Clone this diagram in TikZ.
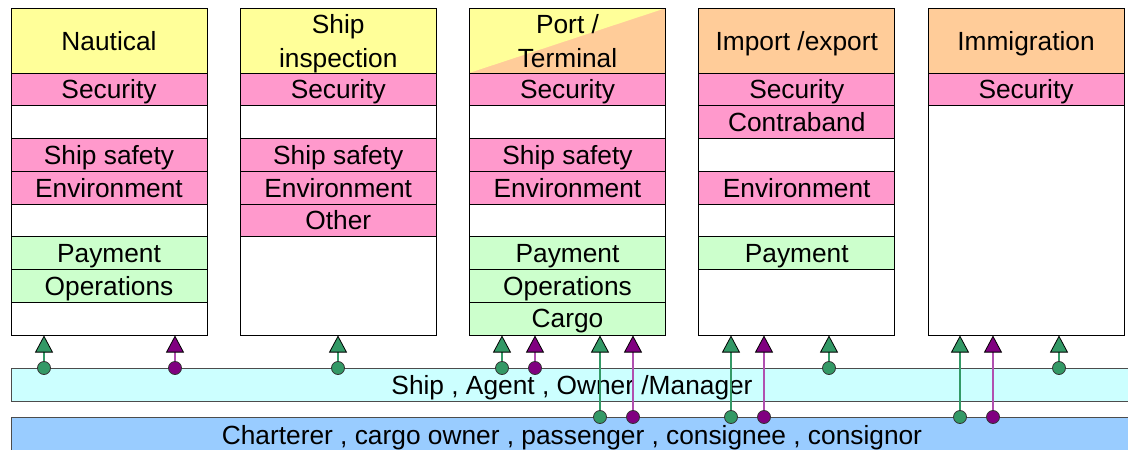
\documentclass[tikz,border=0pt]{standalone}
\usepackage{fontspec}
\setmainfont{Liberation Sans}
\usepackage{xcolor}
\usetikzlibrary{arrows.meta}

\definecolor{headyellow}{HTML}{FFFF99}
\definecolor{headorange}{HTML}{FFCC99}
\definecolor{rowpink}{HTML}{FF99CC}
\definecolor{rowgreen}{HTML}{CCFFCC}
\definecolor{barcyan}{HTML}{CCFFFF}
\definecolor{barblue}{HTML}{99CCFF}
\definecolor{dotgreen}{HTML}{339966}
\definecolor{dotpurple}{HTML}{800080}
\definecolor{linepurple}{HTML}{B050B0}

\begin{document}
\begin{tikzpicture}[x=1pt, y=-1pt, font=\fontsize{26.3}{34}\selectfont]
    	\tikzstyle{column}=[draw=black, fill=white, line width=1pt, minimum width=196pt, minimum height=327pt, inner sep=0pt]
    	\tikzstyle{header}=[draw=black, line width=1pt, minimum width=196pt, minimum height=65pt, inner sep=0pt, text depth=0pt, align=center]
    	\tikzstyle{cell}=[draw=black, line width=1pt, minimum width=196pt, minimum height=32.75pt, inner sep=0pt, text depth=0pt]
    	\tikzstyle{bar}=[draw=black!70, line width=1pt, minimum width=1122pt, inner sep=0pt, text depth=0pt]
    	\tikzstyle{gdot}=[circle, draw=black!80, fill=dotgreen, line width=0.8pt, minimum size=13pt, inner sep=0pt]
    	\tikzstyle{pdot}=[gdot, fill=dotpurple]
    	\tikzstyle{garrow}=[draw=dotgreen, line width=1.2pt, -{Triangle[width=18pt, length=17pt, color=black, fill=dotgreen, line width=0.8pt]}]
    	\tikzstyle{parrow}=[draw=linepurple, line width=1.4pt, -{Triangle[width=18pt, length=17pt, color=black, fill=dotpurple, line width=0.8pt]}]
    	
    	\useasboundingbox (0,0) rectangle (1128,450);
    	
    	% Columns
    	\foreach \i in {1,...,5}
    	\node at ({109+(\i-1)*229.25}, 171.5) [column] (col_\i) {};
    	
    	% Port / Terminal header background
    	\fill [headorange] (469,8) rectangle (666,73);
    	\fill [headyellow] (469,8) -- (666,8) -- (469,73) -- cycle;
    	
    	% Headers
    	\foreach \i/\c/\t in {1/headyellow/Nautical, 2/headyellow/{Ship\\inspection}, 3/none/{Port /\\Terminal}, 4/headorange/{Import /export}, 5/headorange/Immigration}
    	\node at ({109+(\i-1)*229.25}, 40.5) [header, fill=\c] (head_\i) {\t};
    	
    	% Rows
    	\foreach \i/\r/\c/\t in {1/1/rowpink/Security, 1/3/rowpink/Ship safety, 1/4/rowpink/Environment, 1/6/rowgreen/Payment, 1/7/rowgreen/Operations,
    	  2/1/rowpink/Security, 2/3/rowpink/Ship safety, 2/4/rowpink/Environment, 2/5/rowpink/Other,
    	  3/1/rowpink/Security, 3/3/rowpink/Ship safety, 3/4/rowpink/Environment, 3/6/rowgreen/Payment, 3/7/rowgreen/Operations, 3/8/rowgreen/Cargo,
    	  4/1/rowpink/Security, 4/2/rowpink/Contraband, 4/4/rowpink/Environment, 4/6/rowgreen/Payment,
    	  5/1/rowpink/Security}
    	\node at ({109+(\i-1)*229.25}, {73+(\r-0.5)*32.75}) [cell, fill=\c] (cell_\i_\r) {\t};
    	
    	% Bars
    	\node at (572, 384.5) [bar, fill=barcyan, minimum height=33pt] (ship) {Ship , Agent , Owner /Manager};
    	\node at (572, 434.5) [bar, fill=barblue, minimum height=35pt] (cargo) {Charterer , cargo owner , passenger , consignee , consignor};
    	
    	% Links from ship bar
    	\foreach \x/\k in {44/1, 338/2, 502/3, 829/4, 1059/5} {
    	  \node at (\x, 368) [gdot] (dot_\x) {};
    	  \draw [garrow] (dot_\x) -- (dot_\x |- col_\k.south);
    	}
    	\foreach \x/\k in {175/1, 535/3} {
    	  \node at (\x, 368) [pdot] (dot_\x) {};
    	  \draw [parrow] (dot_\x) -- (dot_\x |- col_\k.south);
    	}
    	
    	% Links from cargo bar
    	\foreach \x/\k in {600/3, 731/4, 960/5} {
    	  \node at (\x, 417) [gdot] (dot_\x) {};
    	  \draw [garrow] (dot_\x) -- (dot_\x |- col_\k.south);
    	}
    	\foreach \x/\k in {633/3, 764/4, 993/5} {
    	  \node at (\x, 417) [pdot] (dot_\x) {};
    	  \draw [parrow] (dot_\x) -- (dot_\x |- col_\k.south);
    	}

    \end{tikzpicture}
\end{document}
